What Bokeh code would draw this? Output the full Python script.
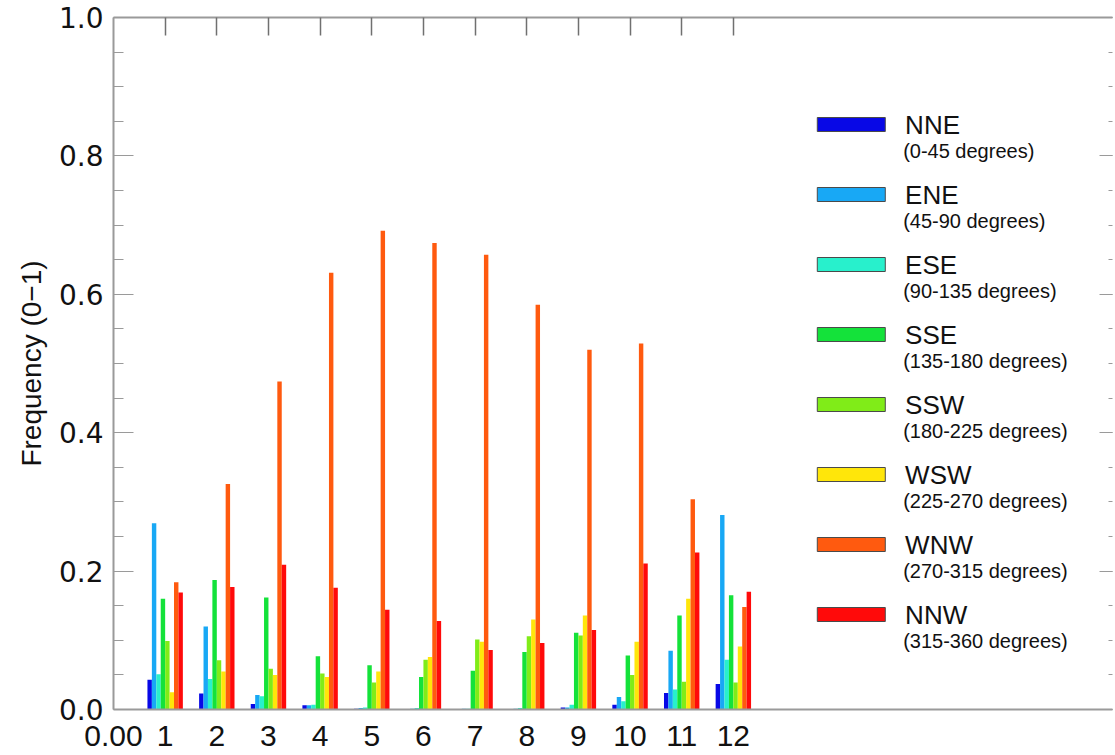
from bokeh.plotting import figure
from bokeh.models import Range1d, LinearAxis, FixedTicker, ColumnDataSource
from bokeh.core.properties import value
from bokeh.embed import file_html
from bokeh.resources import INLINE

months = [1, 2, 3, 4, 5, 6, 7, 8, 9, 10, 11, 12]
month_labels = {0: "0.00", **{m: str(m) for m in months}}
y_ticks = [0.0, 0.2, 0.4, 0.6, 0.8, 1.0]
y_labels = {0.0: "0.0", 0.2: "0.2", 0.4: "0.4", 0.6: "0.6", 0.8: "0.8", 1.0: "1.0"}
directions = ["NNE", "ENE", "ESE", "SSE", "SSW", "WSW", "WNW", "NNW"]
ranges = ["(0-45 degrees)", "(45-90 degrees)", "(90-135 degrees)", "(135-180 degrees)",
          "(180-225 degrees)", "(225-270 degrees)", "(270-315 degrees)", "(315-360 degrees)"]
colors = ["#0808E6", "#18A8F5", "#28F0CC", "#14E23A", "#80EC18", "#FFE60A", "#FF5A0F", "#FF0A0A"]

NNE = [0.043, 0.023, 0.008, 0.006, 0.001, 0.000, 0.000, 0.000, 0.003, 0.007, 0.024, 0.037]
ENE = [0.269, 0.120, 0.021, 0.006, 0.002, 0.001, 0.001, 0.001, 0.003, 0.018, 0.085, 0.281]
ESE = [0.051, 0.044, 0.019, 0.007, 0.003, 0.002, 0.001, 0.002, 0.007, 0.012, 0.029, 0.072]
SSE = [0.160, 0.187, 0.162, 0.077, 0.064, 0.047, 0.056, 0.083, 0.111, 0.078, 0.136, 0.165]
SSW = [0.099, 0.071, 0.059, 0.052, 0.039, 0.072, 0.101, 0.106, 0.107, 0.050, 0.040, 0.039]
WSW = [0.025, 0.055, 0.050, 0.047, 0.055, 0.076, 0.098, 0.130, 0.136, 0.098, 0.160, 0.091]
WNW = [0.184, 0.326, 0.474, 0.631, 0.692, 0.674, 0.657, 0.585, 0.520, 0.529, 0.304, 0.148]
NNW = [0.169, 0.177, 0.209, 0.176, 0.144, 0.128, 0.086, 0.096, 0.115, 0.211, 0.227, 0.170]
series = [NNE, ENE, ESE, SSE, SSW, WSW, WNW, NNW]

W, H = 1115, 755
LEFT, TOP, BOTTOM = 113, 17, 46
X_END = 19.34
FONT = "Liberation Sans"
TICKFONT = "DejaVu Sans"

p = figure(width=W, height=H, output_backend="svg", toolbar_location=None,
           x_range=Range1d(0, X_END), y_range=Range1d(0, 1.0),
           min_border_left=LEFT, min_border_right=0, min_border_top=TOP,
           min_border_bottom=BOTTOM, x_axis_location=None, y_axis_location=None)
p.outline_line_color = None
p.grid.visible = False
p.background_fill_color = "white"
p.border_fill_color = "white"

AX = "#9a9a9a"

# bottom axis
xb = LinearAxis(ticker=FixedTicker(ticks=[0] + months), major_label_overrides=month_labels)
xb.axis_line_color = AX
xb.axis_line_width = 2
xb.major_tick_line_color = None
xb.minor_tick_line_color = None
xb.major_label_text_font = FONT
xb.major_label_text_font_size = "30px"
xb.major_label_text_color = "#111111"
xb.major_label_standoff = 10
p.add_layout(xb, "below")

# top axis with inward ticks at each month
xt = LinearAxis(ticker=FixedTicker(ticks=months, minor_ticks=[]),
                major_label_overrides={m: " " for m in months})
xt.axis_line_color = AX
xt.axis_line_width = 2
xt.major_tick_line_color = "#707070"
xt.major_tick_line_width = 1.5
xt.major_tick_in = 18
xt.major_tick_out = 0
xt.minor_tick_line_color = None
xt.major_label_text_font_size = "1px"
xt.major_label_standoff = 0
p.add_layout(xt, "above")

# left axis
yl = LinearAxis(ticker=FixedTicker(ticks=y_ticks, minor_ticks=[i * 0.05 for i in range(21)]),
                major_label_overrides=y_labels)
yl.axis_line_color = AX
yl.axis_line_width = 2
yl.major_tick_line_color = AX
yl.minor_tick_line_color = AX
yl.major_tick_in = 20
yl.major_tick_out = 0
yl.minor_tick_in = 10
yl.minor_tick_out = 0
yl.major_label_text_font = TICKFONT
yl.major_label_text_font_size = "28px"
yl.major_label_text_color = "#111111"
yl.major_label_standoff = 10
yl.axis_label = "Frequency (0\u22121)"
yl.axis_label_text_font = FONT
yl.axis_label_text_font_style = "normal"
yl.axis_label_text_font_size = "28px"
yl.axis_label_text_color = "#111111"
yl.axis_label_standoff = 9
p.add_layout(yl, "left")

# right axis (ticks only)
yr = LinearAxis(ticker=FixedTicker(ticks=y_ticks, minor_ticks=[i * 0.05 for i in range(21)]),
                major_label_overrides={v: " " for v in y_ticks})
yr.axis_line_color = None
yr.major_tick_line_color = AX
yr.minor_tick_line_color = AX
yr.major_tick_in = 13
yr.major_tick_out = 0
yr.minor_tick_in = 4
yr.minor_tick_out = 0
yr.major_label_text_font_size = "1px"
yr.major_label_standoff = 0
p.add_layout(yr, "right")

frame_h = H - TOP - BOTTOM
frame_w = W - LEFT

# bars
bw = 0.0857
for i, (name, vals, col) in enumerate(zip(directions, series, colors)):
    xs = [m + (i - 3.5) * bw for m in months]
    src = ColumnDataSource(dict(x=xs, top=vals))
    p.vbar(x="x", top="top", bottom=0, width=bw, source=src,
           fill_color=col, line_color=None)

# legend (custom, positioned in pixel terms converted to data units)
def px2x(px):
    return (px - LEFT) / frame_w * X_END
def py2y(py):
    return (H - BOTTOM - py) / frame_h

sw_cx, sw_w, sw_h = 853, 68, 14
hdr_x, sub_x = 907, 905
y0, dy = 124, 70
for i, (name, rng, col) in enumerate(zip(directions, ranges, colors)):
    yc = y0 + i * dy
    p.rect(x=[px2x(sw_cx)], y=[py2y(yc)], width=sw_w, height=sw_h,
           width_units="screen", height_units="screen",
           fill_color=col, line_color="#4a4a4a", line_width=1)
    p.text(x=[px2x(hdr_x)], y=[py2y(yc)], text=[name], text_font=value(FONT),
           text_font_size="26px", text_baseline="middle", text_align="left",
           text_color="#111111")
    p.text(x=[px2x(sub_x)], y=[py2y(yc + 26)], text=[rng], text_font=value(FONT),
           text_font_size="20px", text_baseline="middle", text_align="left",
           text_color="#111111")

open("out.html", "w").write(file_html(p, INLINE))
